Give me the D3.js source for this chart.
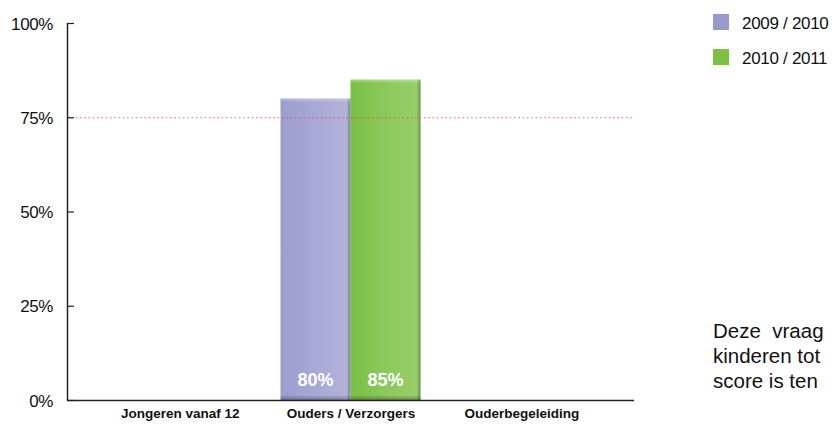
<!DOCTYPE html>
<html><head><meta charset="utf-8">
<script src="https://cdn.jsdelivr.net/npm/d3@7"></script>
<style>html,body{margin:0;padding:0;background:#fff;}svg{display:block;font-family:"Liberation Sans",Arial,sans-serif;}</style>
</head><body>
<svg id="c" width="838" height="435"></svg>
<script>
const categories = ["Jongeren vanaf 12", "Ouders / Verzorgers", "Ouderbegeleiding"];
const seriesNames = ["2009 / 2010", "2010 / 2011"];
const values2009 = [null, 80, null];
const values2010 = [null, 85, null];
const yTicks = [0, 25, 50, 75, 100];
const targetLine = 75;
const noteLines = ["Deze  vraag", "kinderen tot", "score is ten"];

const svg = d3.select("#c");
const x0 = 67, x1 = 634, yTop = 23, yBot = 400;

const y = d3.scaleLinear().domain([0, 100]).range([yBot, yTop]);
const xBand = d3.scaleBand().domain(categories).range([x0, x1]);
const xSeries = d3.scaleBand().domain(seriesNames).range([0, 140]);
const xLabel = d3.scalePoint().domain(categories).range([x0, x1]).padding(0.66);

const defs = svg.append("defs");
const grads = [["#9a9ccc", "#a8a9d5", "#b3b3da"], ["#78bf44", "#8cc95c", "#98cf6c"]];
grads.forEach((g, i) => {
  const lg = defs.append("linearGradient").attr("id", "g" + i).attr("x1", 0).attr("x2", 1).attr("y1", 0).attr("y2", 0);
  lg.append("stop").attr("offset", "0%").attr("stop-color", g[0]);
  lg.append("stop").attr("offset", "50%").attr("stop-color", g[1]);
  lg.append("stop").attr("offset", "100%").attr("stop-color", g[2]);
});
const shadeR = defs.append("linearGradient").attr("id", "shR").attr("x1", 0).attr("x2", 1);
shadeR.append("stop").attr("offset", "0%").attr("stop-color", "#000").attr("stop-opacity", 0);
shadeR.append("stop").attr("offset", "100%").attr("stop-color", "#000").attr("stop-opacity", 0.3);
const shadeB = defs.append("linearGradient").attr("id", "shB").attr("x1", 0).attr("x2", 0).attr("y1", 0).attr("y2", 1);
shadeB.append("stop").attr("offset", "0%").attr("stop-color", "#000").attr("stop-opacity", 0);
shadeB.append("stop").attr("offset", "100%").attr("stop-color", "#000").attr("stop-opacity", 0.3);
const shadeT = defs.append("linearGradient").attr("id", "shT").attr("x1", 0).attr("x2", 0).attr("y1", 0).attr("y2", 1);
shadeT.append("stop").attr("offset", "0%").attr("stop-color", "#fff").attr("stop-opacity", 0.35);
shadeT.append("stop").attr("offset", "100%").attr("stop-color", "#fff").attr("stop-opacity", 0);

// bars
const series = [values2009, values2010];
series.forEach((vals, si) => {
  categories.forEach((cat, ci) => {
    const v = vals[ci];
    if (v == null) return;
    const bx = xBand(cat) + xBand.bandwidth() / 2 - 70 + xSeries(seriesNames[si]);
    const bw = xSeries.bandwidth();
    const by = y(v), bh = y(0) - y(v);
    const g = svg.append("g");
    g.append("rect").attr("x", bx).attr("y", by).attr("width", bw).attr("height", bh).attr("fill", `url(#g${si})`);
    g.append("rect").attr("x", bx + bw - 4).attr("y", by).attr("width", 4).attr("height", bh).attr("fill", "url(#shR)");
    g.append("rect").attr("x", bx).attr("y", by).attr("width", bw).attr("height", 4).attr("fill", "url(#shT)");
    g.append("rect").attr("x", bx).attr("y", y(0) - 5).attr("width", bw).attr("height", 5).attr("fill", "url(#shB)");
    g.append("text").attr("x", bx + bw / 2).attr("y", y(0) - 14).attr("text-anchor", "middle")
      .attr("fill", "#fff").attr("font-weight", "bold").attr("font-size", "18px").text(v + "%");
  });
});

// target dotted line
svg.append("line").attr("x1", x0).attr("x2", x1).attr("y1", y(targetLine) + 0.5).attr("y2", y(targetLine) + 0.5)
  .attr("stroke", "#d84a3a").attr("stroke-opacity", 0.8).attr("stroke-width", 1).attr("stroke-dasharray", "1.5,2.8");

// y axis
const yAxis = d3.axisRight(y).tickValues(yTicks).tickSize(7).tickFormat(d => d + "%");
const ga = svg.append("g").attr("transform", `translate(${x0},0)`).call(yAxis);
ga.select(".domain").attr("stroke", "#222").attr("stroke-width", 1.5).attr("d", `M0.5,${yTop}V${yBot}`);
ga.selectAll(".tick line").attr("stroke", "#222").attr("stroke-width", 1.2);
ga.selectAll(".tick text").attr("x", -14).attr("dy", "0.36em").attr("text-anchor", "end")
  .attr("font-size", "17px").attr("letter-spacing", "-0.4px").attr("fill", "#111")
  .attr("font-family", "'Liberation Sans',Arial,sans-serif");

// x axis
const xAxis = d3.axisBottom(xLabel).tickSize(0).tickSizeOuter(0);
const gx = svg.append("g").attr("transform", `translate(0,${yBot})`).call(xAxis);
gx.select(".domain").attr("stroke", "#222").attr("stroke-width", 1.5).attr("d", `M${x0},0.5H${x1}`);
gx.selectAll(".tick text").attr("y", 18).attr("dy", 0).attr("font-size", "13.5px").attr("font-weight", "bold")
  .attr("fill", "#111").attr("font-family", "'Liberation Sans',Arial,sans-serif");

// legend
const leg = svg.append("g");
seriesNames.forEach((s, i) => {
  const ly = 14 + i * 35;
  leg.append("rect").attr("x", 713).attr("y", ly).attr("width", 16).attr("height", 16).attr("fill", i === 0 ? "#9999cc" : "#7cc142");
  leg.append("text").attr("x", 742).attr("y", ly + 15).attr("font-size", "17px").attr("letter-spacing", "-0.3px").attr("fill", "#111").text(s);
});

// note text
noteLines.forEach((t, i) => {
  svg.append("text").attr("x", 713).attr("y", 338 + i * 25).attr("font-size", "20.5px").attr("fill", "#111")
    .attr("xml:space", "preserve").style("white-space", "pre").text(t);
});
</script>
</body></html>
